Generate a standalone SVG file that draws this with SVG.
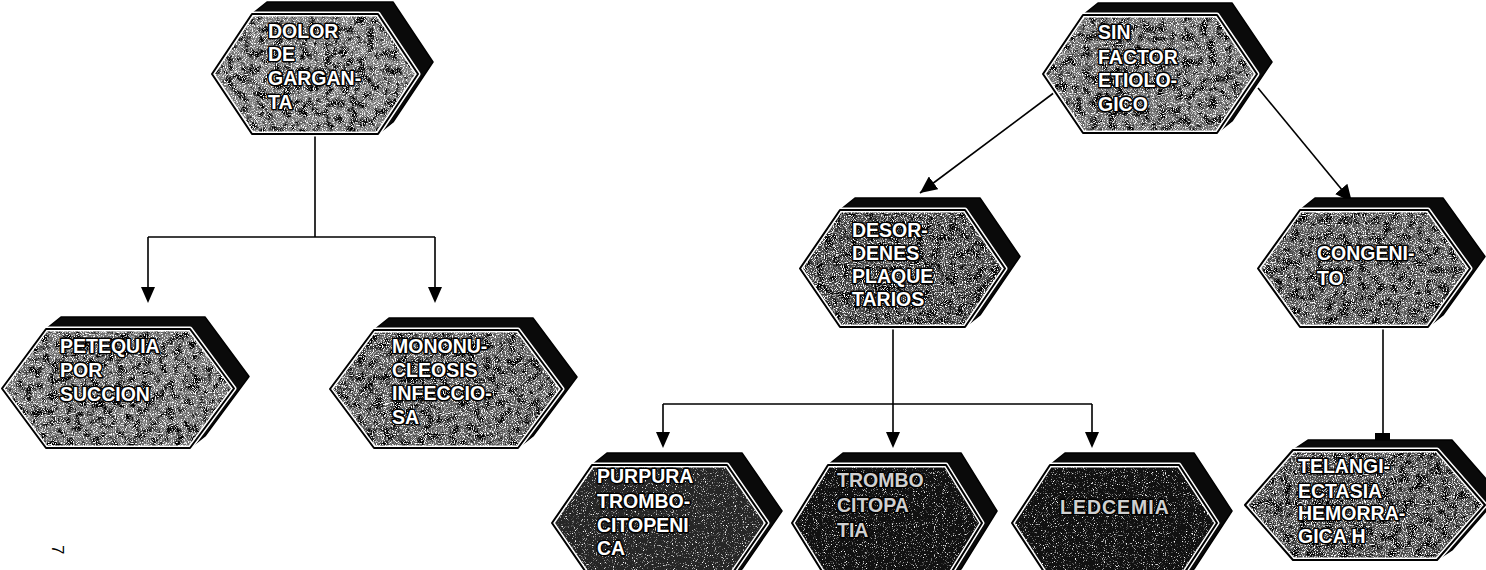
<svg xmlns="http://www.w3.org/2000/svg" width="1486" height="570" viewBox="0 0 1486 570">
  <defs>
    <style>
      .depth { fill: #0a0a0a; stroke: #000; stroke-width: 1.5; stroke-linejoin: round; }
      .face { filter: url(#grain); }
      .faceDark { filter: url(#grainDark); }
      .rimW { fill: none; stroke: #fff; stroke-width: 5; stroke-linejoin: round; }
      .rimK { fill: none; stroke: #000; stroke-width: 2; stroke-linejoin: round; }
      .lbl { font-family: "Liberation Sans", Arial, sans-serif; font-weight: bold; font-size: 19.5px; fill: #fff; stroke: #000; stroke-width: 3; paint-order: stroke; stroke-linejoin: round; }
      .lblDim { fill: #d0d0d0; }
      .wire { fill: none; stroke: #000; stroke-width: 1.6; }
      .head { fill: #000; }
      .mark { font-family: "Liberation Sans", Arial, sans-serif; font-size: 17px; fill: #000; }
    </style>
    <!-- mottled halftone surface: dark blotches plus fine white speckles -->
    <filter id="grain" x="0" y="0" width="100%" height="100%" color-interpolation-filters="sRGB">
      <feTurbulence type="fractalNoise" baseFrequency="0.12" numOctaves="3" seed="2" result="low"/>
      <feColorMatrix in="low" type="matrix" values="0 0 0 0 0  0 0 0 0 0  0 0 0 0 0  5 0 0 0 -2.3" result="blot"/>
      <feTurbulence type="fractalNoise" baseFrequency="0.9" numOctaves="2" seed="4" result="hi"/>
      <feColorMatrix in="hi" type="matrix" values="0 0 0 0 1  0 0 0 0 1  0 0 0 0 1  4.5 0 0 0 -2.15" result="dots"/>
      <feMerge result="m"><feMergeNode in="SourceGraphic"/><feMergeNode in="blot"/><feMergeNode in="dots"/></feMerge>
      <feComposite in="m" in2="SourceGraphic" operator="in"/>
    </filter>
    <filter id="grainDark" x="0" y="0" width="100%" height="100%" color-interpolation-filters="sRGB">
      <feTurbulence type="fractalNoise" baseFrequency="0.9" numOctaves="2" seed="9" result="hi"/>
      <feColorMatrix in="hi" type="matrix" values="0 0 0 0 1  0 0 0 0 1  0 0 0 0 1  5 0 0 0 -2.95" result="dots"/>
      <feMerge result="m"><feMergeNode in="SourceGraphic"/><feMergeNode in="dots"/></feMerge>
      <feComposite in="m" in2="SourceGraphic" operator="in"/>
    </filter>
    <marker id="arrowDiag" markerUnits="userSpaceOnUse" markerWidth="18" markerHeight="16" viewBox="0 0 18 16" refX="17" refY="8" orient="auto">
      <path d="M0,0 L17,8 L0,16 Z" fill="#000"/>
    </marker>
  </defs>

  <rect width="1486" height="570" fill="#fff"/>

  <!-- connectors -->
  <g id="connectors">
    <path class="wire" d="M315,134 V237 M148,237 H435 M148,237 V288 M435,237 V288"/>
    <path class="head" d="M141,287 L155,287 L148,303 Z"/>
    <path class="head" d="M428,287 L442,287 L435,303 Z"/>
    <path class="wire" d="M1055,92 L920,193" marker-end="url(#arrowDiag)"/>
    <path class="wire" d="M1258,88 L1352,202" marker-end="url(#arrowDiag)"/>
    <path class="wire" d="M893,327 V404 M663,404 H1092 M663,404 V433 M893,404 V433 M1092,404 V433"/>
    <path class="head" d="M656,432 L670,432 L663,448 Z"/>
    <path class="head" d="M886,432 L900,432 L893,448 Z"/>
    <path class="head" d="M1085,432 L1099,432 L1092,448 Z"/>
    <path class="wire" d="M1383,327 V434"/>
    <rect class="head" x="1375" y="433" width="15" height="8"/>
  </g>

  <!-- DOLOR DE GARGANTA -->
  <g id="node-dolor">
    <polygon class="depth" points="212,74 252,14 267,2 393,2 433,62 393,122 378,134 252,134"/>
    <polygon class="face" fill="#767676" points="212,74 252,14 378,14 418,74 378,134 252,134"/>
    <polygon class="rimW" points="212,74 252,14 378,14 418,74 378,134 252,134"/>
    <polygon class="rimK" points="212,74 252,14 378,14 418,74 378,134 252,134"/>
    <text class="lbl" x="268" y="38">DOLOR</text>
    <text class="lbl" x="268" y="61">DE</text>
    <text class="lbl" x="268" y="85">GARGAN-</text>
    <text class="lbl" x="268" y="109">TA</text>
  </g>

  <!-- SIN FACTOR ETIOLOGICO -->
  <g id="node-sin-factor">
    <polygon class="depth" points="1043,74 1083,15 1098,3 1232,3 1272,62 1232,121 1217,133 1083,133"/>
    <polygon class="face" fill="#6a6a6a" points="1043,74 1083,15 1217,15 1257,74 1217,133 1083,133"/>
    <polygon class="rimW" points="1043,74 1083,15 1217,15 1257,74 1217,133 1083,133"/>
    <polygon class="rimK" points="1043,74 1083,15 1217,15 1257,74 1217,133 1083,133"/>
    <text class="lbl" x="1098" y="39">SIN</text>
    <text class="lbl" x="1098" y="64">FACTOR</text>
    <text class="lbl" x="1098" y="87">ETIOLO-</text>
    <text class="lbl" x="1098" y="111">GICO</text>
  </g>

  <!-- PETEQUIA POR SUCCION -->
  <g id="node-petequia">
    <polygon class="depth" points="2,388.5 46,329 61,317 205,317 249,376.5 205,436 190,448 46,448"/>
    <polygon class="face" fill="#6c6c6c" points="2,388.5 46,329 190,329 234,388.5 190,448 46,448"/>
    <polygon class="rimW" points="2,388.5 46,329 190,329 234,388.5 190,448 46,448"/>
    <polygon class="rimK" points="2,388.5 46,329 190,329 234,388.5 190,448 46,448"/>
    <text class="lbl" x="60" y="353">PETEQUIA</text>
    <text class="lbl" x="60" y="377">POR</text>
    <text class="lbl" x="60" y="401">SUCCION</text>
  </g>

  <!-- MONONUCLEOSIS INFECCIOSA -->
  <g id="node-mononucleosis">
    <polygon class="depth" points="330,389 374,330 389,318 533,318 577,377 533,436 518,448 374,448"/>
    <polygon class="face" fill="#595959" points="330,389 374,330 518,330 562,389 518,448 374,448"/>
    <polygon class="rimW" points="330,389 374,330 518,330 562,389 518,448 374,448"/>
    <polygon class="rimK" points="330,389 374,330 518,330 562,389 518,448 374,448"/>
    <text class="lbl" x="392" y="353">MONONU-</text>
    <text class="lbl" x="392" y="377">CLEOSIS</text>
    <text class="lbl" x="392" y="400">INFECCIO-</text>
    <text class="lbl" x="392" y="424">SA</text>
  </g>

  <!-- DESORDENES PLAQUETARIOS -->
  <g id="node-desordenes">
    <polygon class="depth" points="800,268.5 840,210 855,198 980,198 1020,256.5 980,315 965,327 840,327"/>
    <polygon class="face" fill="#404040" points="800,268.5 840,210 965,210 1005,268.5 965,327 840,327"/>
    <polygon class="rimW" points="800,268.5 840,210 965,210 1005,268.5 965,327 840,327"/>
    <polygon class="rimK" points="800,268.5 840,210 965,210 1005,268.5 965,327 840,327"/>
    <text class="lbl" x="852" y="237">DESOR-</text>
    <text class="lbl" x="852" y="260">DENES</text>
    <text class="lbl" x="852" y="283">PLAQUE</text>
    <text class="lbl" x="852" y="306">TARIOS</text>
  </g>

  <!-- CONGENITO -->
  <g id="node-congenito">
    <polygon class="depth" points="1258,268.5 1300,210 1315,198 1443,198 1485,256.5 1443,315 1428,327 1300,327"/>
    <polygon class="face" fill="#555" points="1258,268.5 1300,210 1428,210 1470,268.5 1428,327 1300,327"/>
    <polygon class="rimW" points="1258,268.5 1300,210 1428,210 1470,268.5 1428,327 1300,327"/>
    <polygon class="rimK" points="1258,268.5 1300,210 1428,210 1470,268.5 1428,327 1300,327"/>
    <text class="lbl" x="1317" y="260">CONGENI-</text>
    <text class="lbl" x="1317" y="285">TO</text>
  </g>

  <!-- PURPURA TROMBOCITOPENICA -->
  <g id="node-purpura">
    <polygon class="depth" points="552,523 592,465 607,453 742,453 782,511 742,569 727,581 592,581"/>
    <polygon class="faceDark" fill="#262626" points="552,523 592,465 727,465 767,523 727,581 592,581"/>
    <polygon class="rimW" points="552,523 592,465 727,465 767,523 727,581 592,581"/>
    <polygon class="rimK" points="552,523 592,465 727,465 767,523 727,581 592,581"/>
    <text class="lbl" x="597" y="483">PURPURA</text>
    <text class="lbl" x="597" y="508">TROMBO-</text>
    <text class="lbl" x="597" y="532">CITOPENI</text>
    <text class="lbl" x="597" y="555">CA</text>
  </g>

  <!-- TROMBOCITOPATIA -->
  <g id="node-trombocitopatia">
    <polygon class="depth" points="792,523 828,465 843,453 961,453 997,511 961,569 946,581 828,581"/>
    <polygon class="faceDark" fill="#111" points="792,523 828,465 946,465 982,523 946,581 828,581"/>
    <polygon class="rimW" points="792,523 828,465 946,465 982,523 946,581 828,581"/>
    <polygon class="rimK" points="792,523 828,465 946,465 982,523 946,581 828,581"/>
    <text class="lbl lblDim" x="837" y="487">TROMBO</text>
    <text class="lbl lblDim" x="837" y="512">CITOPA</text>
    <text class="lbl lblDim" x="837" y="537">TIA</text>
  </g>

  <!-- LEDCEMIA -->
  <g id="node-ledcemia">
    <polygon class="depth" points="1012,523 1050,465 1065,453 1194,453 1232,511 1194,569 1179,581 1050,581"/>
    <polygon class="faceDark" fill="#111" points="1012,523 1050,465 1179,465 1217,523 1179,581 1050,581"/>
    <polygon class="rimW" points="1012,523 1050,465 1179,465 1217,523 1179,581 1050,581"/>
    <polygon class="rimK" points="1012,523 1050,465 1179,465 1217,523 1179,581 1050,581"/>
    <text class="lbl lblDim" x="1060" y="514" letter-spacing="1">LEDCEMIA</text>
  </g>

  <!-- TELANGIECTASIA HEMORRAGICA H -->
  <g id="node-telangiectasia">
    <polygon class="depth" points="1245,505 1293,450 1308,440 1452,440 1500,495 1452,550 1437,560 1293,560"/>
    <polygon class="face" fill="#484848" points="1245,505 1293,450 1437,450 1485,505 1437,560 1293,560"/>
    <polygon class="rimW" points="1245,505 1293,450 1437,450 1485,505 1437,560 1293,560"/>
    <polygon class="rimK" points="1245,505 1293,450 1437,450 1485,505 1437,560 1293,560"/>
    <text class="lbl" x="1298" y="473">TELANGI-</text>
    <text class="lbl" x="1298" y="498">ECTASIA</text>
    <text class="lbl" x="1298" y="520">HEMORRA-</text>
    <text class="lbl" x="1298" y="543">GICA H</text>
  </g>

  <!-- page number, printed sideways -->
  <text class="mark" transform="translate(52,545) rotate(90)">7</text>
</svg>
